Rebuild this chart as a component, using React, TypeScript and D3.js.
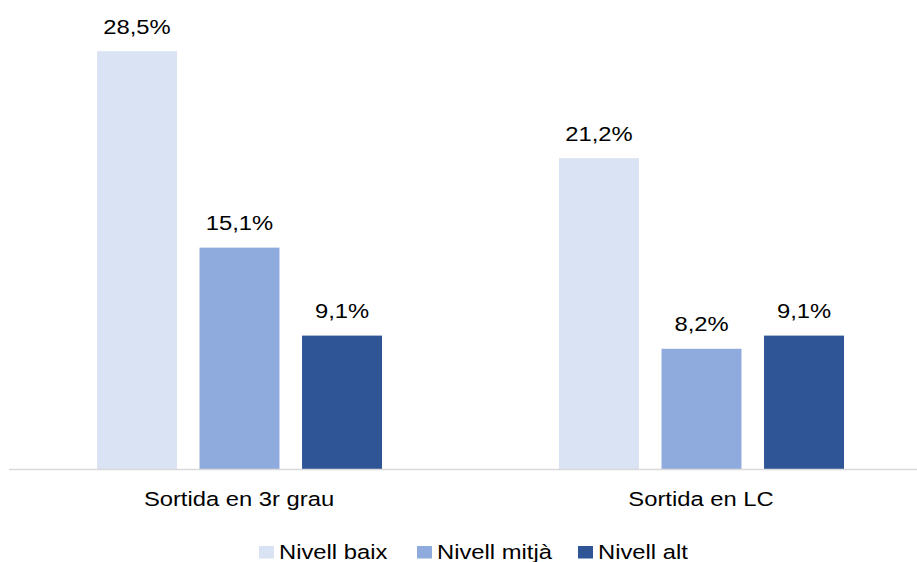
import React, { useEffect, useRef } from 'react';
import * as d3 from 'd3';

const categories = ['Sortida en 3r grau', 'Sortida en LC'];
const seriesNames = ['Nivell baix', 'Nivell mitjà', 'Nivell alt'];
const nivellBaix = [28.5, 21.2];
const nivellMitja = [15.1, 8.2];
const nivellAlt = [9.1, 9.1];
const seriesColors = ['#dae3f3', '#8faadc', '#2f5597'];

const App: React.FC = () => {
  const svgRef = useRef<SVGSVGElement>(null);

  useEffect(() => {
    if (!svgRef.current) return;
    const svg = d3.select(svgRef.current);
    svg.selectAll('*').remove();

    const width = 917;
    const height = 562;
    const baseY = 469;
    const font = '"Liberation Sans", Arial, sans-serif';
    const fs = 20.5;
    const sx = 1.16; // picture is stretched a bit horizontally

    svg.attr('width', width).attr('height', height);

    const values = [nivellBaix, nivellMitja, nivellAlt];

    const x0 = d3.scaleBand<string>().domain(categories).range([8.5, 932.5]).padding(0);
    const x1 = d3.scaleBand<string>().domain(seriesNames).range([88.5, 373.5]).paddingInner(0.22).paddingOuter(0);
    const y = d3.scaleLinear().domain([0, 30]).range([baseY, baseY - 30 * 14.66]);

    const fmt = (v: number) => v.toFixed(1).replace('.', ',') + '%';

    categories.forEach((cat, ci) => {
      const g = svg.append('g').attr('transform', `translate(${x0(cat)},0)`);
      seriesNames.forEach((s, si) => {
        const v = values[si][ci];
        const bx = x1(s)!;
        g.append('rect')
          .attr('x', bx)
          .attr('y', y(v))
          .attr('width', x1.bandwidth())
          .attr('height', baseY - y(v))
          .attr('fill', seriesColors[si]);
        g.append('text')
          .attr('transform', `translate(${bx + x1.bandwidth() / 2},${y(v) - 17.5}) scale(${sx},1)`)
          .attr('text-anchor', 'middle')
          .attr('font-family', font)
          .attr('font-size', fs)
          .attr('fill', '#000')
          .text(fmt(v));
      });
      svg.append('text')
        .attr('transform', `translate(${x0(cat)! + x0.bandwidth() / 2 - 0.5},506) scale(${sx},1)`)
        .attr('text-anchor', 'middle')
        .attr('font-family', font)
        .attr('font-size', fs)
        .attr('fill', '#000')
        .text(cat);
    });

    // axis line
    svg.append('line')
      .attr('x1', 9)
      .attr('x2', width)
      .attr('y1', baseY + 0.5)
      .attr('y2', baseY + 0.5)
      .attr('stroke', '#d9d9d9')
      .attr('stroke-width', 1.5);

    // legend
    const legendX = [259, 417, 578];
    seriesNames.forEach((s, i) => {
      svg.append('rect')
        .attr('x', legendX[i])
        .attr('y', 546)
        .attr('width', 15)
        .attr('height', 12.5)
        .attr('fill', seriesColors[i]);
      svg.append('text')
        .attr('transform', `translate(${legendX[i] + 20},558.5) scale(${sx},1)`)
        .attr('font-family', font)
        .attr('font-size', fs)
        .attr('fill', '#000')
        .text(s);
    });
  }, []);

  return <svg ref={svgRef} style={{ position: 'absolute', left: 0, top: 0 }}></svg>;
};

export default App;
